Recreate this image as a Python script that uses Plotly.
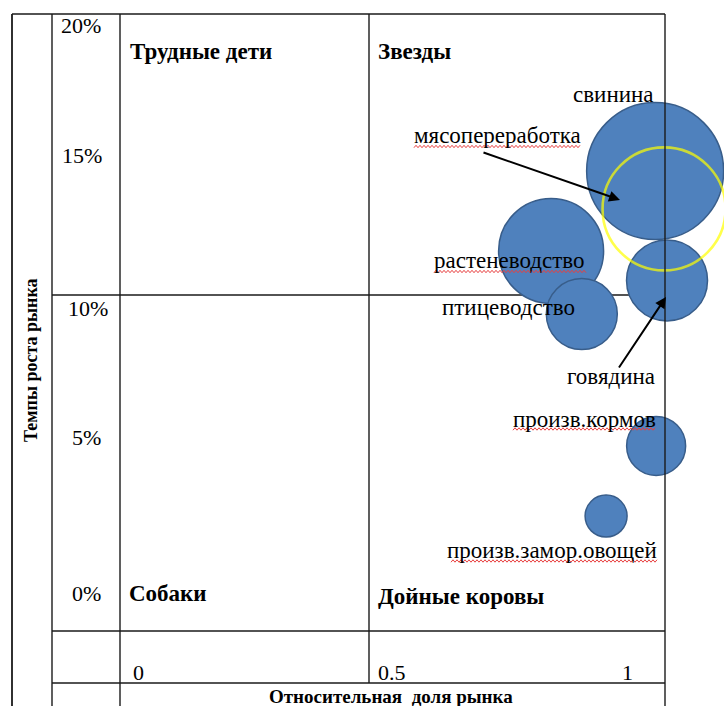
import plotly.graph_objects as go

W, H = 724, 706

# ---------------- data ----------------
categories = ["свинина", "мясопереработка", "растеневодство", "говядина",
              "птицеводство", "произв.кормов", "произв.замор.овощей"]
rel_share = [1.080, 1.098, 0.870, 1.104, 0.932, 1.082, 0.981]   # относительная доля рынка
growth = [14.4, 13.05, 11.55, 10.5, 9.3, 4.6, 2.1]               # темпы роста рынка, %
bubble_size = [137, 123, 105, 81, 71, 59, 42]

y_tick_labels = ["20%", "15%", "10%", "5%", "0%"]
x_tick_labels = ["0", "0.5", "1"]
quadrants = ["Трудные дети", "Звезды", "Собаки", "Дойные коровы"]
y_title = "Темпы роста рынка"
x_title = "Относительная  доля рынка"

# ---------------- helpers ----------------
def px(x):
    return x / W

def py(y):
    return 1 - y / H

FONT = "Liberation Serif, Times New Roman, serif"
BLUE = "#4F81BD"
EDGE = "#385D8A"

fig = go.Figure()

blue_idx = [i for i in range(len(categories)) if i != 1]
fig.add_trace(go.Scatter(
    x=[rel_share[i] for i in blue_idx],
    y=[growth[i] for i in blue_idx],
    mode="markers",
    marker=dict(size=[bubble_size[i] for i in blue_idx], sizemode="diameter",
                color=BLUE, opacity=1, line=dict(color=EDGE, width=1.5)),
    cliponaxis=False, hoverinfo="skip", showlegend=False,
))
# мясопереработка — жёлтое кольцо
fig.add_trace(go.Scatter(
    x=[rel_share[1]], y=[growth[1]], mode="markers",
    marker=dict(size=[bubble_size[1]], sizemode="diameter",
                color="rgba(0,0,0,0)", line=dict(color="#FFFF00", width=2.6)),
    cliponaxis=False, hoverinfo="skip", showlegend=False,
))

# ---------------- table grid ----------------
shapes = []
def seg(x0, y0, x1, y1, layer="above", width=1.4):
    shapes.append(dict(type="line", xref="paper", yref="paper",
                       x0=px(x0), y0=py(y0), x1=px(x1), y1=py(y1),
                       line=dict(color="#1a1a1a", width=width), layer=layer))

seg(12, 14, 665, 14)
seg(12, 14, 12, 706, width=1.8)
seg(52, 14, 52, 706)
seg(120, 14, 120, 706)
seg(369, 14, 369, 683)
seg(665, 14, 665, 706)
seg(52, 295, 665, 295, layer="below")
seg(52, 631, 665, 631)
seg(52, 683, 665, 683)

# spell-check wavy underlines
def wavy(x0, x1, y):
    pts = []
    x = x0
    k = 0
    while x <= x1:
        yy = y + (1.2 if k % 2 == 0 else -1.2)
        pts.append((x, yy))
        x += 2
        k += 1
    d = "M " + " L ".join(f"{px(a):.5f},{py(b):.5f}" for a, b in pts)
    shapes.append(dict(type="path", xref="paper", yref="paper", path=d,
                       line=dict(color="#E84040", width=1), layer="above"))

wavy(414, 581, 146.5)
wavy(434, 587, 271.5)
wavy(513, 656, 429)
wavy(451, 657, 561)

# ---------------- text ----------------
ann = []
def txt(s, x, baseline, anchor="left", size=23, bold=False, angle=0):
    ann.append(dict(text=f"<b>{s}</b>" if bold else s, xref="paper", yref="paper",
                    x=px(x), y=py(baseline - 0.34 * size), xanchor=anchor,
                    yanchor="middle", showarrow=False, textangle=angle,
                    font=dict(family=FONT, size=size, color="black")))

# y tick labels
for lab, x, b in zip(y_tick_labels, [59, 60, 66, 70, 70], [33, 163, 316, 445, 601]):
    txt(lab, x, b, size=22)
# x tick labels
for lab, x, b in zip(x_tick_labels, [131, 376, 620], [680, 680, 680]):
    txt(lab, x, b, size=22)
# quadrant names
for lab, x, b in zip(quadrants, [128, 376, 127, 376], [59, 59, 601, 604]):
    txt(lab, x, b, bold=True)

# bubble labels
label_pos = {
    "свинина": (656, 102, "right"),
    "мясопереработка": (412, 143, "left"),
    "растеневодство": (432, 268, "left"),
    "говядина": (657, 384, "right"),
    "птицеводство": (440, 315, "left"),
    "произв.кормов": (658, 427, "right"),
    "произв.замор.овощей": (659, 558, "right"),
}
for c in categories:
    x, b, a = label_pos[c]
    txt(c, x, b, anchor=a)

# axis titles
txt(x_title, 391, 703, anchor="center", size=19, bold=True)
ann.append(dict(text=f"<b>{y_title}</b>", xref="paper", yref="paper",
                x=px(31), y=py(360), xanchor="center", yanchor="middle",
                showarrow=False, textangle=-90,
                font=dict(family=FONT, size=18, color="black")))

# arrows
for hx, hy, tx, ty in [(620, 200, 482, 152), (666, 297, 618, 369)]:
    ann.append(dict(text="", xref="paper", yref="paper", x=px(hx), y=py(hy),
                    ax=tx - hx, ay=ty - hy, showarrow=True, arrowhead=2,
                    arrowsize=1.1, arrowwidth=2, arrowcolor="black", standoff=0))

X_PER_UNIT = 495.5  # pixels per unit of relative share
fig.update_layout(
    width=W, height=H, margin=dict(l=0, r=0, t=0, b=0),
    paper_bgcolor="white", plot_bgcolor="rgba(0,0,0,0)",
    xaxis=dict(domain=[px(120), px(120 + 1.2 * X_PER_UNIT)], range=[0, 1.2],
               visible=False, fixedrange=True),
    yaxis=dict(domain=[py(631), py(14)], range=[-2, 20], visible=False, fixedrange=True),
    shapes=shapes, annotations=ann, showlegend=False,
)

fig.write_html("out.html")
